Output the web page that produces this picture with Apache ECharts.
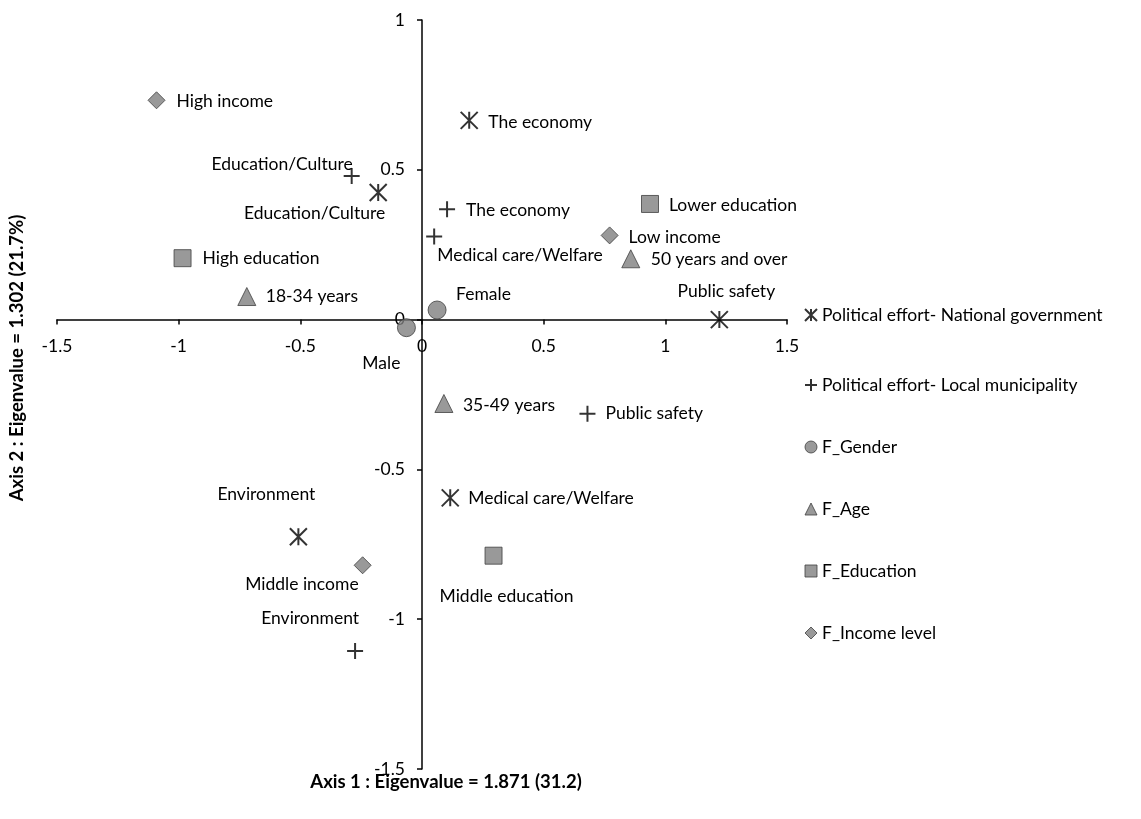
<!DOCTYPE html>
<html><head><meta charset="utf-8">
<script src="https://cdn.jsdelivr.net/npm/echarts@6/dist/echarts.min.js"></script>
<style>html,body{margin:0;padding:0;background:#fff}#c{width:1141px;height:819px}</style>
</head><body><div id="c"></div>
<script>
// ---- Data ----
const seriesNames = ['Political effort- National government','Political effort- Local municipality','F_Gender','F_Age','F_Education','F_Income level'];
const natNames = ['The economy','Education/Culture','Public safety','Medical care/Welfare','Environment'];
const natX = [0.194, -0.18, 1.222, 0.116, -0.508];
const natY = [0.665, 0.424, 0.0, -0.595, -0.725];
const locNames = ['Education/Culture','The economy','Medical care/Welfare','Public safety','Environment'];
const locX = [-0.289, 0.103, 0.05, 0.68, -0.275];
const locY = [0.479, 0.368, 0.277, -0.314, -1.106];
const genNames = ['Female','Male'];
const genX = [0.062, -0.064];
const genY = [0.032, -0.027];
const ageNames = ['18-34 years','50 years and over','35-49 years'];
const ageX = [-0.72, 0.858, 0.09];
const ageY = [0.077, 0.203, -0.28];
const eduNames = ['High education','Lower education','Middle education'];
const eduX = [-0.984, 0.937, 0.294];
const eduY = [0.205, 0.386, -0.788];
const incNames = ['High income','Low income','Middle income'];
const incX = [-1.091, 0.771, -0.244];
const incY = [0.732, 0.281, -0.82];
const xTicks = [-1.5, -1, -0.5, 0, 0.5, 1, 1.5];
const yTicks = [-1.5, -1, -0.5, 0, 0.5, 1];
const xTitle = 'Axis 1 : Eigenvalue = 1.871 (31.2)';
const yTitle = 'Axis 2 : Eigenvalue = 1.302 (21.7%)';

// ---- Label placement (style) : [align, dx, dy] per point ----
const place = [
  [['left',19,2],['right',7,21],['center',7,-28],['left',18,0],['center',-32,-42]],
  [['right',1,-12],['left',19,1],['left',3,19],['left',18,0],['right',4,-33]],
  [['left',19,-16],['right',-6,36]],
  [['left',19,0],['left',20,1],['left',19,2]],
  [['left',20,0],['left',19,1],['center',13,41]],
  [['left',20,1],['left',19,2],['right',-4,19]]
];

const FONT = 'Lato';
const FS = 17.5;
const GRAY = '#808080';
const EDGE = '#404040';
const ASTER = 'path://M0,0L10,10M10,0L0,10M5,0L5,10';
const PLUS = 'path://M5,0L5,10M0,5L10,5';

const groups = [
  {names:natNames, xs:natX, ys:natY, symbol:ASTER, size:17, line:true},
  {names:locNames, xs:locX, ys:locY, symbol:PLUS, size:16, line:true},
  {names:genNames, xs:genX, ys:genY, symbol:'circle', size:18},
  {names:ageNames, xs:ageX, ys:ageY, symbol:'triangle', size:18},
  {names:eduNames, xs:eduX, ys:eduY, symbol:'rect', size:17},
  {names:incNames, xs:incX, ys:incY, symbol:'diamond', size:17}
];

function itemStyleFor(g){
  return g.line ? {color:'rgba(0,0,0,0)', borderColor:'#000', borderWidth:2}
                : {color:GRAY, borderColor:EDGE, borderWidth:1};
}

const series = groups.map((g, si) => ({
  type:'scatter',
  name: seriesNames[si],
  symbol: g.symbol,
  symbolSize: g.size,
  itemStyle: itemStyleFor(g),
  emphasis:{disabled:true},
  label:{show:true, position:'inside', color:'#000', opacity:1, textBorderWidth:0, fontFamily:FONT, fontSize:FS},
  data: g.names.map((n, i) => ({
    name: n,
    value: [g.xs[i], g.ys[i]],
    label: {
      formatter:n,
      align: place[si][i][0], verticalAlign:'middle',
      offset:[place[si][i][1], place[si][i][2]]
    }
  }))
}));

function legendItem(si, g){
  const st = g.line ? {color:'rgba(0,0,0,0)', borderColor:'#000', borderWidth:2}
                    : {color:GRAY, borderColor:EDGE, borderWidth:1};
  return {name:seriesNames[si], icon:g.symbol, itemStyle:st};
}

const chart = echarts.init(document.getElementById('c'), null, {renderer:'canvas'});
const axisCommon = {
  type:'value', interval:0.5,
  axisLine:{show:true, onZero:false, lineStyle:{color:'#000', width:1.5}},
  axisTick:{show:true, length:5, lineStyle:{color:'#000', width:1.5}},
  splitLine:{show:false}
};
chart.setOption({
  animation:false,
  backgroundColor:'#fff',
  grid:{left:57, right:354, top:20, bottom:50, containLabel:false},
  xAxis:Object.assign({}, axisCommon, {
    min:xTicks[0], max:xTicks[xTicks.length-1], position:'bottom',
    axisLabel:{color:'#000', fontFamily:FONT, fontSize:FS, margin:18, showMinLabel:true, showMaxLabel:true, formatter:v=>String(v)}
  }),
  yAxis:Object.assign({}, axisCommon, {
    min:yTicks[0], max:yTicks[yTicks.length-1], position:'left',
    axisLabel:{color:'#000', fontFamily:FONT, fontSize:FS, margin:17, formatter:v=>String(v)}
  }),
  legend:[
    {orient:'vertical', left:799, top:301, itemWidth:12, itemHeight:12, itemGap:44,
     textStyle:{color:'#000', fontFamily:FONT, fontSize:FS}, selectedMode:false,
     data:[legendItem(0, groups[0])]},
    {orient:'vertical', left:799, top:371, itemWidth:12, itemHeight:12, itemGap:44,
     textStyle:{color:'#000', fontFamily:FONT, fontSize:FS}, selectedMode:false,
     data:groups.slice(1).map((g,i)=>legendItem(i+1, g))}
  ],
  graphic:[
    {type:'text', x:446, y:782, style:{text:xTitle, fontFamily:FONT, fontWeight:'bold', fontSize:18.5, fill:'#000', align:'center', verticalAlign:'middle'}},
    {type:'text', x:17, y:358, rotation:Math.PI/2, style:{text:yTitle, fontFamily:FONT, fontWeight:'bold', fontSize:18.5, fill:'#000', align:'center', verticalAlign:'middle'}}
  ],
  series: series
});
// move axes so they cross at the origin (labels and ticks follow)
const origin = chart.convertToPixel({gridIndex:0}, [0, 0]);
const grid = chart.getModel().getComponent('grid').coordinateSystem.getRect();
chart.setOption({
  xAxis:{offset: -(grid.y + grid.height - origin[1])},
  yAxis:{offset: -(origin[0] - grid.x)}
});
</script></body></html>
